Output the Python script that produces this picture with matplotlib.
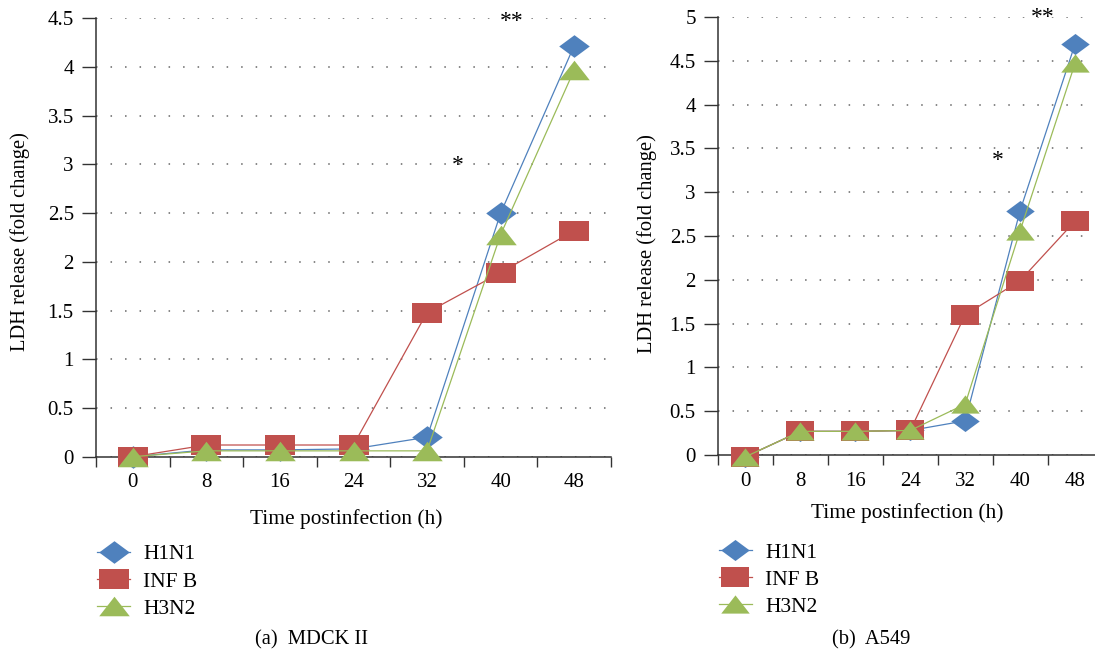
import matplotlib.pyplot as plt
import numpy as np

plt.rcParams['font.family'] = ['Liberation Serif', 'DejaVu Serif']

# data
hours = ['0', '8', '16', '24', '32', '40', '48']

mdck_h1n1 = [0.0, 0.07, 0.07, 0.08, 0.20, 2.50, 4.22]
mdck_infb = [0.0, 0.12, 0.12, 0.12, 1.48, 1.89, 2.32]
mdck_h3n2 = [0.0, 0.06, 0.06, 0.06, 0.06, 2.28, 3.97]

a549_h1n1 = [-0.02, 0.27, 0.27, 0.28, 0.39, 2.79, 4.69]
a549_infb = [-0.02, 0.27, 0.27, 0.28, 1.60, 1.99, 2.67]
a549_h3n2 = [-0.02, 0.27, 0.27, 0.28, 0.58, 2.56, 4.47]

series_names = ['H1N1', 'INF B', 'H3N2']
colors = ['#4F81BD', '#C0504D', '#9BBB59']

mdck_yticks = [0, 0.5, 1, 1.5, 2, 2.5, 3, 3.5, 4, 4.5]
a549_yticks = [0, 0.5, 1, 1.5, 2, 2.5, 3, 3.5, 4, 4.5, 5]

# significance marks (x in category units, y in data units)
mdck_stars = [(4.42, 2.99, '*'), (5.15, 4.47, '**')]
a549_stars = [(4.60, 3.36, '*'), (5.42, 4.99, '**')]

# marker shapes (flattened like the original)
diamond = [(-1, 0), (0, 0.74), (1, 0), (0, -0.74), (-1, 0)]
square = [(-1, -0.67), (1, -0.67), (1, 0.67), (-1, 0.67), (-1, -0.67)]
triangle = [(-1, -0.64), (1, -0.64), (0, 0.64), (-1, -0.64)]
markers = [diamond, square, triangle]

FS = 15

fig = plt.figure(figsize=(10.95, 6.54), dpi=100)


def yfmt(v):
    return ('%g' % v)


def draw_panel(ax, data, yticks, ymax, stars, msize, xlab_pos, ylab_pos):
    x = np.arange(len(hours))
    for vals, name, c, m in zip(data, series_names, colors, markers):
        ax.plot(x, vals, color=c, lw=0.9, marker=m, ms=msize, mfc=c, mec=c,
                mew=0, label=name, clip_on=False, zorder=3)
    ax.set_xlim(-0.5, len(hours) - 0.5)
    ax.set_ylim(0, ymax)

    ax.set_xticks(np.arange(len(hours) + 1) - 0.5)
    ax.set_xticklabels([])
    ax.set_xticks(x, minor=True)
    ax.set_xticklabels(hours, minor=True)
    ax.tick_params(axis='x', which='major', direction='out', length=7, width=1.0, color='#333333')
    ax.tick_params(axis='x', which='minor', length=0, pad=12, labelsize=FS)

    ax.set_yticks(yticks)
    ax.set_yticklabels([yfmt(v) for v in yticks])
    ax.tick_params(axis='y', direction='out', length=10, width=1.0, color='#333333',
                   pad=6, labelsize=FS)

    ax.grid(axis='y', color='#666666', lw=1.1, linestyle=(0, (1, 8.5)))
    ax.set_axisbelow(True)
    for s in ['top', 'right']:
        ax.spines[s].set_visible(False)
    for s in ['left', 'bottom']:
        ax.spines[s].set_color('#333333')
        ax.spines[s].set_linewidth(1.1)

    ax.set_xlabel('Time postinfection (h)', fontsize=15.4)
    ax.xaxis.label.set_va('center')
    ax.xaxis.set_label_coords(*xlab_pos)
    ax.set_ylabel('LDH release (fold change)', fontsize=14.8)
    ax.yaxis.label.set_va('center')
    ax.yaxis.set_label_coords(*ylab_pos)

    for sx, sy, st in stars:
        ax.text(sx, sy, st, ha='center', va='center', fontsize=17)

    leg = ax.legend(loc='upper left', bbox_to_anchor=(0.002, -0.2), frameon=False,
                    fontsize=15.5, numpoints=1, handlelength=1.55, handletextpad=0.6,
                    labelspacing=0.33, borderpad=0, borderaxespad=0)
    return leg


ax1 = fig.add_axes([96 / 1095, 1 - 456.7 / 654, 515 / 1095, 438.4 / 654])
draw_panel(ax1, [mdck_h1n1, mdck_infb, mdck_h3n2], mdck_yticks, 4.5, mdck_stars, 22,
           (0.485, -0.142), (-0.147, 0.49))

ax2 = fig.add_axes([718 / 1095, 1 - 455 / 654, 384.5 / 1095, 438 / 654])
draw_panel(ax2, [a549_h1n1, a549_infb, a549_h3n2], a549_yticks, 5, a549_stars, 20.5,
           (0.493, -0.133), (-0.185, 0.482))

fig.text(311.7 / 1095, 1 - 640 / 654, '(a)  MDCK II', ha='center', va='center', fontsize=14.8)
fig.text(871 / 1095, 1 - 640 / 654, '(b)  A549', ha='center', va='center', fontsize=14.8)

fig.savefig('out.png', dpi=100)
